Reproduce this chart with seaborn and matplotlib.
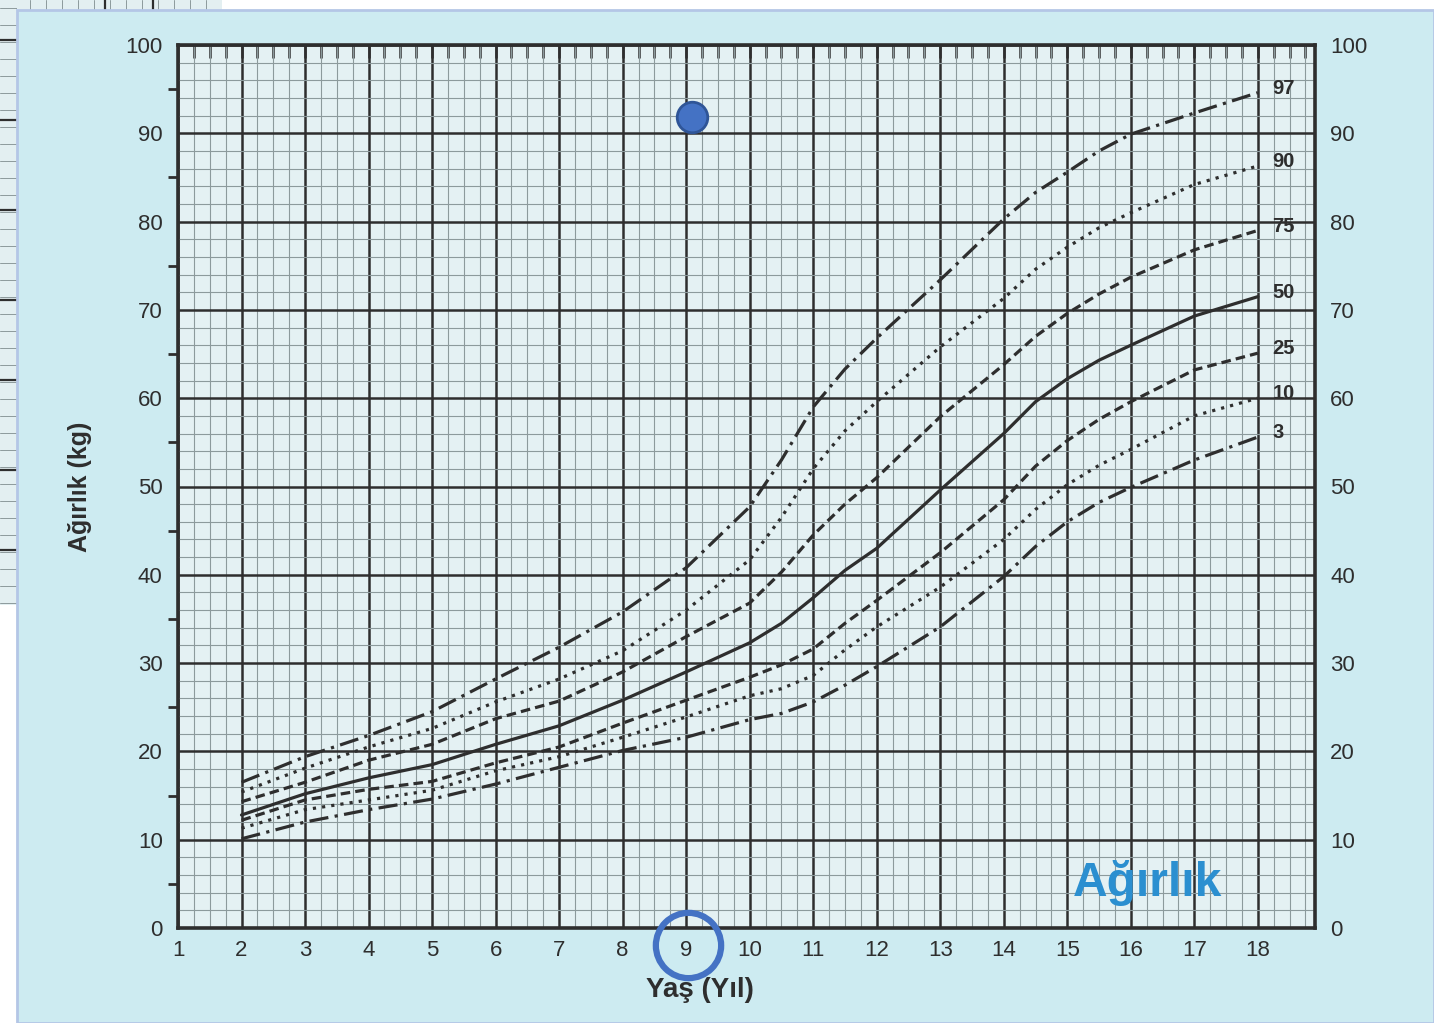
import numpy as np
import pandas as pd
import matplotlib
matplotlib.use("Agg")
import matplotlib.pyplot as plt
from matplotlib.patches import Rectangle
import seaborn as sns

# percentile curves (age in years, weight in kg)
ages = [2, 3, 4, 5, 6, 7, 8, 9, 10, 10.5, 11, 11.5, 12, 13, 14, 14.5, 15, 15.5, 16, 17, 18]
p97 = [16.5, 19.4, 21.8, 24.5, 28.2, 31.8, 35.8, 40.8, 47.7, 53.0, 59.0, 63.3, 66.8, 73.4, 80.3, 83.3, 85.6, 88.0, 89.9, 92.3, 94.6]
p90 = [15.4, 18.1, 20.5, 22.6, 25.6, 28.2, 31.4, 36.0, 41.7, 46.5, 52.0, 56.3, 59.6, 65.8, 71.3, 74.6, 77.1, 79.3, 81.0, 84.2, 86.3]
p75 = [14.3, 16.5, 19.0, 20.8, 23.7, 25.7, 29.0, 33.0, 36.8, 40.3, 44.5, 48.0, 51.0, 57.9, 63.8, 67.0, 69.6, 71.8, 73.7, 76.8, 79.0]
p50 = [12.8, 15.2, 17.0, 18.5, 20.8, 22.9, 25.8, 29.0, 32.3, 34.5, 37.4, 40.5, 43.0, 49.6, 56.0, 59.6, 62.2, 64.3, 66.0, 69.3, 71.5]
p25 = [12.2, 14.5, 15.7, 16.6, 18.7, 20.5, 23.2, 25.8, 28.4, 29.8, 31.6, 34.5, 37.1, 42.5, 48.5, 52.3, 55.2, 57.6, 59.6, 63.2, 65.1]
p10 = [11.3, 13.4, 14.5, 15.6, 17.8, 19.4, 21.6, 23.9, 26.3, 27.1, 28.6, 31.5, 34.1, 38.6, 44.0, 47.4, 50.2, 52.4, 54.2, 58.0, 60.0]
p3 = [10.1, 12.0, 13.4, 14.6, 16.3, 18.2, 20.1, 21.6, 23.6, 24.3, 25.6, 27.5, 29.6, 34.1, 39.8, 43.2, 46.0, 48.2, 49.9, 53.0, 55.6]
percentiles = ["97", "90", "75", "50", "25", "10", "3"]

x_ticks = list(range(1, 19))
y_ticks = list(range(0, 101, 10))

# highlighted point and the circled age label
dot_age = [9.09]
dot_weight = [91.8]
ring_age = [9.03]
ring_weight = [-1.9]

curves = {"97": p97, "90": p90, "75": p75, "50": p50, "25": p25, "10": p10, "3": p3}
styles = {
    "97": (0, (6, 2, 1, 2)),
    "90": (0, (1, 1.9)),
    "75": (0, (3, 1.6)),
    "50": "-",
    "25": (0, (3, 1.6)),
    "10": (0, (1, 1.9)),
    "3": (0, (6, 2, 1, 2)),
}

rows = []
for p in percentiles:
    for a, w in zip(ages, curves[p]):
        rows.append((p, a, w))
df = pd.DataFrame(rows, columns=["pct", "age", "weight"])

sns.set_theme(style="white")
plt.rcParams["font.family"] = ["Liberation Sans", "DejaVu Sans"]

panel_bg = "#cdebf1"
plot_bg = "#e4f1f3"
ink = "#2e2e2e"

fig = plt.figure(figsize=(14.34, 10.23), dpi=100)
fig.patch.set_facecolor("white")

W, H = 1434, 1023


def fig_rect(x0, y0, x1, y1, **kw):
    r = Rectangle((x0 / W, 1 - y1 / H), (x1 - x0) / W, (y1 - y0) / H,
                  transform=fig.transFigure, **kw)
    fig.add_artist(r)
    return r


# scraps of the neighbouring chart behind the panel
fig_rect(0, 0, 17, 605, facecolor="#e3eff1", edgecolor="none", zorder=0)
for yy in range(8, 605, 17):
    fig.add_artist(plt.Line2D([0, 17 / W], [1 - yy / H, 1 - yy / H], transform=fig.transFigure,
                              color="#8d9a9c", lw=0.7, zorder=0))
for yy in [40, 120, 210, 300, 380, 470, 550]:
    fig.add_artist(plt.Line2D([0, 17 / W], [1 - yy / H, 1 - yy / H], transform=fig.transFigure,
                              color=ink, lw=1.6, zorder=0))
fig_rect(17, 0, 222, 10, facecolor="#e3eff1", edgecolor="none", zorder=0)
for xx in range(30, 222, 16):
    fig.add_artist(plt.Line2D([xx / W, xx / W], [1 - 10 / H, 1], transform=fig.transFigure,
                              color="#8d9a9c", lw=0.7, zorder=0))
for xx in [105, 153]:
    fig.add_artist(plt.Line2D([xx / W, xx / W], [1 - 10 / H, 1], transform=fig.transFigure,
                              color=ink, lw=1.6, zorder=0))
fig_rect(17, 10, 1434, 1023, facecolor=panel_bg, edgecolor="#b4c6e6", lw=2, zorder=0.5)

ax = fig.add_axes([178 / W, 1 - 928 / H, (1315 - 178) / W, (928 - 45) / H])
ax.set_facecolor(plot_bg)
ax.set_zorder(2)

for p in percentiles:
    sub = df[df["pct"] == p]
    sns.lineplot(data=sub, x="age", y="weight", ax=ax, color=ink, lw=2.3,
                 linestyle=styles[p], legend=False, zorder=3)
    ax.text(18.23, curves[p][-1] + 0.5, p, fontsize=14.5, fontweight="bold",
            color=ink, va="center", ha="left", zorder=4)

ax.set_xlim(1, 18.9)
ax.set_ylim(0, 100)
ax.set_xticks(x_ticks)
ax.set_yticks(y_ticks)
ax.set_xticks(np.arange(1, 18.9, 0.25), minor=True)
ax.set_yticks(np.arange(0, 101, 2), minor=True)
ax.grid(which="major", color=ink, lw=1.8, zorder=1)
ax.grid(which="minor", color="#8c9a9c", lw=0.8, zorder=1)
ax.set_axisbelow(True)
ax.tick_params(axis="x", which="both", length=0, pad=9, labelsize=16, labelcolor=ink)
ax.tick_params(axis="y", which="both", length=0, labelsize=16, labelcolor=ink,
               labelright=True, pad=11)
for s in ax.spines.values():
    s.set_color(ink)
    s.set_linewidth(2.6)

sec_left = ax.secondary_yaxis("left")
sec_left.set_yticks(np.arange(5, 100, 10))
sec_left.tick_params(length=7, width=2, direction="out", labelleft=False, color=ink)
sec_left.spines["left"].set_visible(False)
sec_top = ax.secondary_xaxis("top")
sec_top.set_xticks(np.arange(1.25, 18.9, 0.25))
sec_top.tick_params(length=9, width=1.8, direction="in", labeltop=False, color=ink)
sec_top.spines["top"].set_visible(False)

ax.set_xlabel("Yaş (Yıl)", fontsize=20, fontweight="bold", color=ink)
ax.xaxis.set_label_coords(0.459, -0.056)
ax.set_ylabel("Ağırlık (kg)", fontsize=18, fontweight="bold", color=ink)
ax.yaxis.set_label_coords(-0.076, 0.50)

ax.text(15.08, 3.6, "Ağırlık", fontsize=34.5, fontweight="bold", color="#2b8fd0", zorder=4)

ax.plot(dot_age, dot_weight, marker="o", ms=22, mfc="#4472c4", mec="#2f5597", mew=2,
        ls="none", zorder=5, clip_on=False)
ax.plot(ring_age, ring_weight, marker="o", ms=47, mfc="none", mec="#4472c4", mew=4.5,
        ls="none", zorder=5, clip_on=False)

fig.savefig("out.png", dpi=100, facecolor=fig.get_facecolor())
